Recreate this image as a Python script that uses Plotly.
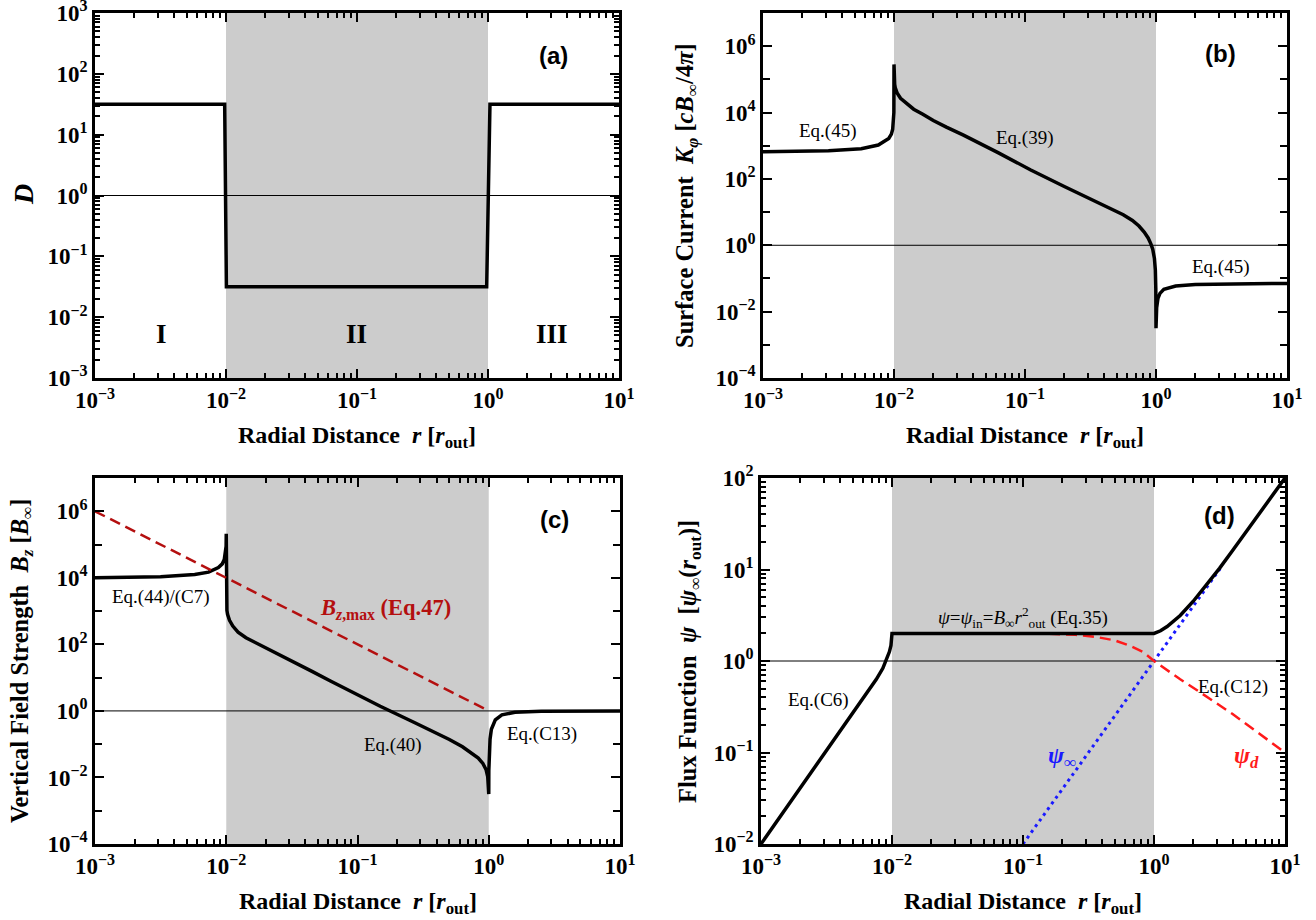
import plotly.graph_objects as go

W, H = 1316, 920
SERIF = "Liberation Serif"
SANS = "Liberation Sans"

# ---------------- data ----------------
# (a) ratio D in regions I / II / III
r_D = [0.001, 0.00977, 0.01007, 0.977, 1.035, 10.0]
D_vals = [31.6, 31.6, 0.0316, 0.0316, 31.6, 31.6]

# (b) surface current K_phi
r_K = [0.001, 0.00178, 0.00316, 0.00562, 0.00759, 0.00912, 0.00955, 0.00977,
       0.00991, 0.009977, 0.01,
       0.010023, 0.01012, 0.01023, 0.01059, 0.01122, 0.0123, 0.01413, 0.0166,
       0.01995, 0.0251, 0.0339, 0.0617, 0.1107, 0.1995, 0.363, 0.4467, 0.5623,
       0.6607, 0.7413, 0.8128, 0.871, 0.912, 0.9441, 0.9727, 0.9886, 0.99655, 1.0,
       1.00115, 1.0116, 1.035, 1.072, 1.148, 1.413, 1.995, 3.98, 10.0]
K_vals = [661, 676, 708, 813, 1047, 1660, 2239, 3162,
          5012, 1.0e4, 2.82e5,
          1.26e5, 7.08e4, 5.5e4, 3.8e4, 2.69e4, 2.0e4, 1.26e4, 8910,
          5750, 3630, 2090, 631, 186, 58.9, 19.1, 12.6, 8.32,
          5.62, 3.8, 2.51, 1.66, 1.12, 0.759, 0.398, 0.178, 0.0501, 0.00316,
          0.00794, 0.0132, 0.0251, 0.0355, 0.0468, 0.0589, 0.0661, 0.0692, 0.0708]

# (c) vertical field B_z and its upper bound
r_B = [0.001, 0.00178, 0.00316, 0.00575, 0.00733, 0.00871, 0.00933, 0.00966,
       0.00989, 0.009977, 0.01,
       0.0100046, 0.01005, 0.01012, 0.01023, 0.01059, 0.01122, 0.0123, 0.01413,
       0.0166, 0.01995, 0.0251, 0.0339, 0.0454, 0.0622, 0.0822, 0.149, 0.271,
       0.398, 0.501, 0.631, 0.741, 0.832, 0.902, 0.955, 0.9817, 0.9954, 1.0,
       1.00115, 1.0069, 1.023, 1.047, 1.122, 1.259, 1.585, 2.512, 5.01, 10.0]
B_vals = [1.0e4, 1.02e4, 1.07e4, 1.26e4, 1.48e4, 2.04e4, 2.63e4, 3.55e4,
          5.62e4, 8.91e4, 2.09e5,
          3981, 1585, 1047, 794, 525, 355, 234, 158,
          115, 79.4, 50.1, 28.2, 15.1, 7.94, 4.47, 1.38, 0.447,
          0.219, 0.138, 0.0832, 0.055, 0.038, 0.0263, 0.017, 0.0107, 0.00631, 0.00316,
          0.0158, 0.0501, 0.141, 0.282, 0.537, 0.759, 0.912, 0.977, 1.0, 1.0]
r_Bmax = [0.001, 1.0]
Bmax_vals = [1.0e6, 1.0]

# (d) flux function and its two components
r_psi = [0.001, 0.00158, 0.00251, 0.00355, 0.00501, 0.00631, 0.00759, 0.00851,
         0.00912, 0.00955, 0.00982, 0.009954, 0.01, 1.0,
         1.122, 1.259, 1.585, 1.995, 2.512, 3.162, 3.981, 5.012, 6.31, 7.943, 10.0]
psi_vals = [0.01, 0.0257, 0.0661, 0.135, 0.275, 0.437, 0.631, 0.832,
            1.05, 1.26, 1.48, 1.74, 2.0, 2.0,
            2.14, 2.38, 3.14, 4.5, 6.71, 10.3, 16.1, 25.3, 39.9, 63.2, 100.0]
r_psi_inf = [0.1, 1.0, 3.2]
psi_inf_vals = [0.01, 1.0, 10.24]
r_psi_d = [0.158, 0.251, 0.355, 0.501, 0.661, 0.832, 1.0, 1.259, 1.585,
           2.239, 3.981, 6.31, 10.0]
psi_d_vals = [1.98, 1.93, 1.84, 1.68, 1.46, 1.245, 1.0, 0.794, 0.631,
              0.457, 0.263, 0.162, 0.1]

# tick labels
x_tickvals = [1e-3, 1e-2, 1e-1, 1, 10]
x_ticktext = ["10<sup>−3</sup>", "10<sup>−2</sup>", "10<sup>−1</sup>",
              "10<sup>0</sup>", "10<sup>1</sup>"]
ya_tickvals = [1e-3, 1e-2, 1e-1, 1, 10, 100, 1000]
ya_ticktext = ["10<sup>−3</sup>", "10<sup>−2</sup>", "10<sup>−1</sup>",
               "10<sup>0</sup>", "10<sup>1</sup>", "10<sup>2</sup>", "10<sup>3</sup>"]
ybc_tickvals = [1e-4, 1e-2, 1, 1e2, 1e4, 1e6]
ybc_ticktext = ["10<sup>−4</sup>", "10<sup>−2</sup>", "10<sup>0</sup>",
                "10<sup>2</sup>", "10<sup>4</sup>", "10<sup>6</sup>"]
yd_tickvals = [1e-2, 1e-1, 1, 10, 100]
yd_ticktext = ["10<sup>−2</sup>", "10<sup>−1</sup>", "10<sup>0</sup>",
               "10<sup>1</sup>", "10<sup>2</sup>"]


def px_x(x):
    return x / W


def px_y(y):
    return 1 - y / H


# panel frames in pixels: left, right, top, bottom
frames = {
    1: (95, 619, 13, 378),
    2: (763, 1287, 13, 378),
    3: (95, 620, 478, 844),
    4: (761, 1285, 478, 844),
}

fig = go.Figure()

BLACK = "black"
LW = 3.5


def add(x, y, n, color=BLACK, width=LW, dash="solid"):
    sfx = "" if n == 1 else str(n)
    fig.add_trace(go.Scatter(x=x, y=y, mode="lines", xaxis="x" + sfx, yaxis="y" + sfx,
                             line=dict(color=color, width=width, dash=dash),
                             showlegend=False, hoverinfo="skip"))


add(r_D, D_vals, 1)
add(r_K, K_vals, 2)
add(r_B, B_vals, 3)
add(r_Bmax, Bmax_vals, 3, color="#b40f0f", width=2.5, dash="11px,6px")
add(r_psi_inf, psi_inf_vals, 4, color="#1a1aff", width=3, dash="3px,4px")
add(r_psi_d, psi_d_vals, 4, color="#ff1a1a", width=2.5, dash="11px,6px")
add(r_psi, psi_vals, 4)

tickfont = dict(family=SERIF, size=23, color=BLACK)

# y range, labelled ticks, labels, minor tick spacing, minor length
y_specs = {
    1: ([-3, 3], ya_tickvals, ya_ticktext, "D1", 5),
    2: ([-4, 7], ybc_tickvals, ybc_ticktext, 1, 7),
    3: ([-4, 7], ybc_tickvals, ybc_ticktext, 1, 7),
    4: ([-2, 2], yd_tickvals, yd_ticktext, "D1", 5),
}

layout = dict(width=W, height=H,
              margin=dict(l=0, r=0, t=0, b=0, pad=0, autoexpand=False),
              paper_bgcolor="white", plot_bgcolor="white", showlegend=False)

shapes = []
for n, (l, r, t, b) in frames.items():
    sfx = "" if n == 1 else str(n)
    common = dict(type="log", showline=True, linewidth=2.5, linecolor=BLACK,
                  mirror="allticks", ticks="inside", ticklen=9, tickwidth=2,
                  tickcolor=BLACK, showgrid=False, zeroline=False,
                  tickmode="array", tickfont=tickfont, automargin=False,
                  ticklabeloverflow="allow")
    layout["xaxis" + sfx] = dict(
        common, domain=[px_x(l), px_x(r)], range=[-3, 1],
        anchor="y" + sfx, tickvals=x_tickvals,
        ticktext=["<b>" + s + "</b>" for s in x_ticktext],
        minor=dict(ticks="inside", dtick="D1", ticklen=5, tickwidth=1.6,
                   tickcolor=BLACK, showgrid=False))
    yr, yv, yt, ydt, ylen = y_specs[n]
    layout["yaxis" + sfx] = dict(
        common, domain=[px_y(b), px_y(t)], range=yr,
        anchor="x" + sfx, tickvals=yv, ticktext=["<b>" + s + "</b>" for s in yt],
        minor=dict(ticks="inside", dtick=ydt, ticklen=ylen, tickwidth=1.6,
                   tickcolor=BLACK, showgrid=False))
    # shaded disk region II and the unity reference line
    shapes.append(dict(type="rect", xref="x" + sfx, yref="y" + sfx + " domain",
                       x0=0.01, x1=1.0, y0=0, y1=1, fillcolor="#cccccc",
                       line=dict(width=0), layer="below"))
    shapes.append(dict(type="line", xref="x" + sfx + " domain", yref="y" + sfx,
                       x0=0, x1=1, y0=1, y1=1, line=dict(color=BLACK, width=1),
                       layer="below"))

layout["shapes"] = shapes
fig.update_layout(**layout)

ann = []


def text(x, y, s, size=19, family=SERIF, color=BLACK, angle=0):
    ann.append(dict(x=px_x(x), y=px_y(y), xref="paper", yref="paper", text=s,
                    showarrow=False, xanchor="center", yanchor="middle",
                    textangle=angle, font=dict(family=family, size=size, color=color)))


xtitle = "<b>Radial Distance\u00a0\u00a0<i>r</i> [<i>r</i><sub>out</sub>]</b>"
for n, (l, r, t, b) in frames.items():
    text((l + r) / 2, b + 59, xtitle, size=24)

text(24, 195, "<b><i>D</i></b>", size=28, angle=-90)
text(686, 196, "<b>Surface Current\u00a0\u00a0<i>K</i><sub><i>φ</i></sub> "
               "[<i>cB</i><sub>∞</sub>/4<i>π</i>]</b>", size=24.5, angle=-90)
text(21, 661, "<b>Vertical Field Strength\u00a0\u00a0<i>B</i><sub><i>z</i></sub> "
              "[<i>B</i><sub>∞</sub>]</b>", size=24.5, angle=-90)
text(689, 662, "<b>Flux Function\u00a0\u00a0<i>ψ</i>\u00a0\u00a0[<i>ψ</i><sub>∞</sub>"
               "(<i>r</i><sub>out</sub>)]</b>", size=24.5, angle=-90)

# panel letters
for s, (x, y) in {"(a)": (553, 55), "(b)": (1220, 53), "(c)": (554, 519),
                  "(d)": (1219, 515)}.items():
    text(x, y, "<b>" + s + "</b>", size=24, family=SANS)

# region numerals
text(161, 334, "<b>I</b>", size=27)
text(357, 334, "<b>II</b>", size=27)
text(552, 334, "<b>III</b>", size=27)

# equation labels
text(828, 131, "Eq.(45)")
text(1025, 138, "Eq.(39)")
text(1221, 267, "Eq.(45)")
text(161, 597, "Eq.(44)/(C7)")
text(385, 609, "<b><i>B</i><sub><i>z</i>,max</sub> (Eq.47)</b>", color="#b40f0f", size=22.5)
text(393, 745, "Eq.(40)")
text(542, 734, "Eq.(C13)")
text(1023, 617, "<i>ψ</i>=<i>ψ</i><sub>in</sub>=<i>B</i><sub>∞</sub><i>r</i>"
                "<sup>2</sup><sub>out</sub> (Eq.35)")
text(818, 700, "Eq.(C6)")
text(1233, 687, "Eq.(C12)")
text(1062, 757, "<b><i>ψ</i><sub>∞</sub></b>", color="#1a1aff", size=24)
text(1246, 757, "<b><i>ψ</i><sub><i>d</i></sub></b>", color="#ff1a1a", size=24)

fig.update_layout(annotations=ann)
fig.write_html("out.html")
